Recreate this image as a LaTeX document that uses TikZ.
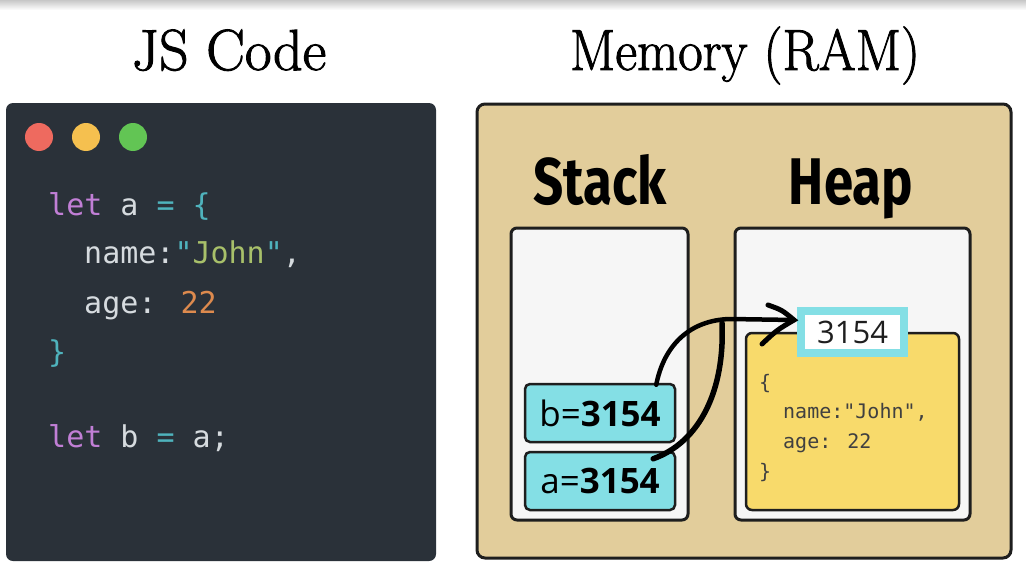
\documentclass[tikz,border=0pt]{standalone}
\usepackage{fontspec}
\usepackage{graphicx}
\usetikzlibrary{calc}
\newfontfamily\codefont{DejaVu Sans Mono}
\newfontfamily\notofont{Open Sans}
\newfontfamily\headfont{Fira Sans}
\newfontfamily\titlefont{Latin Modern Roman}[FakeBold=1.6]
\definecolor{codebg}{HTML}{2A3139}
\definecolor{dotred}{HTML}{EE6A5F}
\definecolor{dotyellow}{HTML}{F5C04F}
\definecolor{dotgreen}{HTML}{62C554}
\definecolor{kwpurple}{HTML}{C17FD6}
\definecolor{plaintxt}{HTML}{D6DBDF}
\definecolor{opteal}{HTML}{4FB3BD}
\definecolor{strgreen}{HTML}{A8C06A}
\definecolor{numorange}{HTML}{DD8A4E}
\definecolor{memtan}{HTML}{E2CD9B}
\definecolor{boxwhite}{HTML}{F6F6F6}
\definecolor{cellcyan}{HTML}{84DFE5}
\definecolor{objyellow}{HTML}{F8DA6B}
\definecolor{inkdark}{HTML}{1E1E1E}
\tikzset{
  title/.style={anchor=base, inner sep=0pt, font=\titlefont\fontsize{58}{60}\selectfont},
  headtxt/.style={anchor=base, inner sep=0pt, font=\headfont\bfseries\fontsize{66}{70}\selectfont},
  codeline/.style={anchor=base west, inner sep=0pt, text=plaintxt, font=\codefont\fontsize{30}{36}\selectfont},
  objline/.style={anchor=base west, inner sep=0pt, text=inkdark!85, font=\codefont\fontsize{20}{24}\selectfont},
  panelbox/.style={draw=inkdark, line width=3pt, rounded corners=6pt, fill=boxwhite},
  cell/.style={draw=inkdark, line width=2.5pt, rounded corners=5pt, fill=cellcyan,
     minimum width=150pt, minimum height=58pt, inner sep=0pt, font=\notofont\fontsize{35}{40}\selectfont},
  addrlabel/.style={draw=cellcyan, line width=8pt, fill=white, minimum width=103pt, minimum height=42pt,
     inner sep=0pt, font=\notofont\fontsize{31}{36}\selectfont, text=inkdark},
  pointer/.style={draw=black, line width=4.5pt, line cap=round},
}
\begin{document}
\begin{tikzpicture}[x=1pt,y=-1pt]
\useasboundingbox (0,0) rectangle (1026,562);
\fill[white] (0,0) rectangle (1026,562);
\shade[top color=black!22, bottom color=white] (0,0) rectangle (1026,10);

% titles
\node[title] (t1) at (229,70) {\scalebox{1.0}[1]{JS Code}};
\node[title] (t2) at (745,70) {\scalebox{0.92}[1]{Memory (RAM)}};

% code panel
\fill[codebg, rounded corners=7pt] (6,103) rectangle (436,561);
\fill[dotred] (39,137) circle (14);
\fill[dotyellow] (86,137) circle (14);
\fill[dotgreen] (133,137) circle (14);
\node[codeline] (c1) at (48,215) {\textcolor{kwpurple}{let} a \textcolor{opteal}{=} \textcolor{opteal}{\{}};
\node[codeline] (c2) at (84,263) {name:\textcolor{opteal}{"}\textcolor{strgreen}{John}\textcolor{opteal}{"},};
\node[codeline] (c3) at (84,313) {age: \textcolor{numorange}{22}};
\node[codeline] (c4) at (48,362) {\textcolor{opteal}{\}}};
\node[codeline] (c5) at (48,447) {\textcolor{kwpurple}{let} b \textcolor{opteal}{=} a;};

% memory panel
\draw[fill=memtan, draw=inkdark, line width=3pt, rounded corners=8pt] (477,104) rectangle (1011,558);
\node[headtxt] (stackt) at (600,204) {\scalebox{0.8}[1]{Stack}};
\node[headtxt] (heapt) at (851,204) {\scalebox{0.8}[1]{Heap}};

\draw[panelbox] (511,228) rectangle (688,520);
\draw[panelbox] (735,228) rectangle (970,520);

% stack cells
\node[cell] (b) at (600,413) {b=\textbf{3154}};
\node[cell] (a) at (600,481) {a=\textbf{3154}};

% heap object
\draw[draw=inkdark, line width=2.5pt, rounded corners=6pt, fill=objyellow] (746,333) rectangle (959,510);
\node[addrlabel] (lbl) at (852.5,332) {3154};
\node[objline] (o1) at (759,389) {\{};
\node[objline] (o2) at (783,418) {name:"John",};
\node[objline] (o3) at (783,448) {age: 22};
\node[objline] (o4) at (759,478) {\}};

% pointers
\coordinate (tip) at (794,320);
\coordinate (join) at (730,319);
\draw[pointer] ($(b.north east)+(-20,2)$) .. controls (664,345) and (690,320) .. (join) -- (tip);
\draw[pointer, line width=5.5pt] ($(a.north east)+(-23,8)$) .. controls (700,442) and (725,390) .. (722,323);
\draw[pointer, line width=5pt] (768,305) .. controls (782,310) .. (tip) .. controls (777,330) .. (762,344);
\end{tikzpicture}
\end{document}
